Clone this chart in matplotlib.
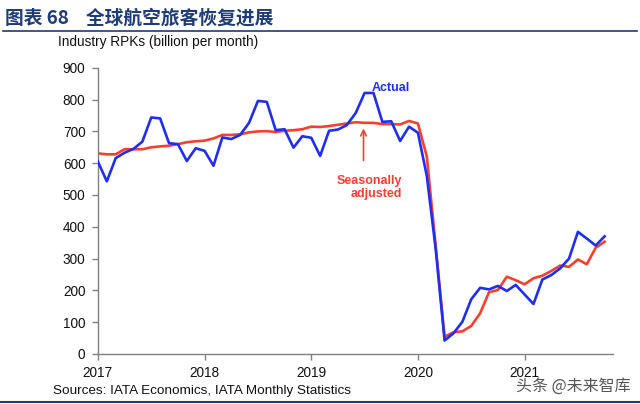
import matplotlib
matplotlib.use("Agg")
import matplotlib.pyplot as plt
import numpy as np

plt.rcParams['font.family'] = ['Liberation Sans', 'DejaVu Sans']

# monthly RPKs, Jan 2017 .. Oct 2021 (billion per month)
actual = [605, 543, 616, 633, 645, 668, 744, 741, 663, 660, 607, 647,
          639, 592, 681, 676, 689, 727, 796, 793, 704, 707, 649, 685,
          680, 623, 702, 706, 720, 758, 821, 821, 730, 732, 670, 715,
          696, 560, 330, 42, 65, 101, 172, 208, 203, 214, 198, 217,
          187, 157, 234, 248, 269, 300, 384, 363, 341, 370]
seasonal = [631, 628, 628, 644, 644, 644, 650, 653, 655, 660, 666, 669,
            671, 678, 689, 689, 691, 697, 700, 701, 698, 702, 704, 707,
            715, 714, 717, 721, 725, 729, 727, 727, 723, 723, 722, 733,
            725, 621, 340, 54, 68, 71, 88, 128, 194, 201, 243, 232,
            219, 238, 246, 261, 278, 274, 297, 282, 334, 353]
years = [2017, 2018, 2019, 2020, 2021]
yticks = [0, 100, 200, 300, 400, 500, 600, 700, 800, 900]

t = 2017 + np.arange(len(actual)) / 12.0

BLUE = '#1f2ef5'
RED = '#f5402f'
NAVY = '#1d3c78'

fig = plt.figure(figsize=(6.4, 4.04), dpi=100)
ax = fig.add_axes([0.153, 0.124, 0.805, 0.708])

ax.plot(t, seasonal, color=RED, lw=1.9, zorder=2)
ax.plot(t, actual, color=BLUE, lw=1.9, zorder=3)

ax.set_xlim(2017, 2021.83)
ax.set_ylim(0, 900)
ax.set_xticks(years)
ax.set_xticklabels([str(y) for y in years], fontsize=9.8)
ax.set_yticks(yticks)
ax.set_yticklabels([str(v) for v in yticks], fontsize=9.8)
for s in ['top', 'right']:
    ax.spines[s].set_visible(False)
for s in ['left', 'bottom']:
    ax.spines[s].set_color('#808080')
    ax.spines[s].set_linewidth(1)
ax.tick_params(colors='#808080', labelcolor='#111111', length=4, width=1)
ax.tick_params(axis='x', pad=4.5)
ax.tick_params(axis='y', pad=5)

ax.text(2019.57, 827, 'Actual', color=BLUE, fontsize=9, fontweight='bold')
ax.annotate('', xy=(2019.49, 718), xytext=(2019.49, 600),
            arrowprops=dict(arrowstyle='->', color=RED, lw=1.2))
ax.text(2019.85, 562, 'Seasonally\nadjusted', color=RED, fontsize=9,
        fontweight='bold', ha='right', va='top', linespacing=1.1)

fig.text(0.09, 0.886, 'Industry RPKs (billion per month)', fontsize=9.8, color='#111111')
fig.text(0.083, 0.024, 'Sources: IATA Economics, IATA Monthly Statistics',
         fontsize=9.7, color='#111111')

fig.text(0.008, 0.955, '图表 68    全球航空旅客恢复进展', fontsize=13.5, fontweight='bold',
         color=NAVY, va='center', family=['Noto Sans CJK SC', 'DejaVu Sans'])
fig.add_artist(plt.Line2D([0.005, 0.995], [0.924, 0.924], color=NAVY, lw=1.2,
                          transform=fig.transFigure))
fig.add_artist(plt.Line2D([0.0, 1.0], [0.006, 0.006], color=NAVY, lw=1.5,
                          transform=fig.transFigure))
fig.text(0.985, 0.043, '头条 @未来智库', fontsize=11.5, color='#555555', ha='right',
         va='center', family=['Noto Sans CJK SC', 'DejaVu Sans'])

fig.savefig('out.png', dpi=100)
